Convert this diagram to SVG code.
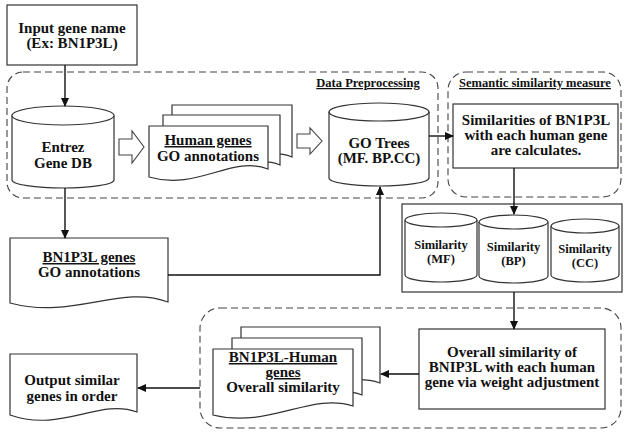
<svg xmlns="http://www.w3.org/2000/svg" width="624" height="432" viewBox="0 0 624 432">
<defs>
<marker id="ah" markerWidth="9" markerHeight="8" refX="8" refY="4" orient="auto" markerUnits="userSpaceOnUse">
<path d="M0,0 L9,4 L0,8 Z" fill="#111"/>
</marker>
<style>
.t{font-family:"Liberation Serif","Times New Roman",serif;font-weight:bold;font-size:15px;fill:#111;text-anchor:middle}
.s{font-size:12.5px}
.u{text-decoration:underline}
.box{fill:#fff;stroke:#333;stroke-width:1.2}
.grp{fill:none;stroke:#444;stroke-width:1.1;stroke-dasharray:7 4}
.ln{fill:none;stroke:#111;stroke-width:1.4}
.blk{fill:#fff;stroke:#444;stroke-width:1.1}
</style>
</defs>
<rect width="624" height="432" fill="#fff"/>

<g id="groups">
<rect id="dataPreprocessing" class="grp" x="7" y="72" width="431" height="126" rx="16"/>
<text class="t s u" x="368" y="87">Data Preprocessing</text>
<rect id="semanticSimilarity" class="grp" x="448" y="72" width="173" height="125" rx="18"/>
<text class="t s u" x="535" y="87">Semantic similarity measure</text>
<rect id="overallGroup" class="grp" x="200" y="308" width="421" height="120" rx="20"/>
</g>

<g id="input">
<rect class="box" x="7" y="5" width="130" height="60"/>
<text class="t" x="72" y="33">Input gene name</text>
<text class="t" x="72" y="48">(Ex: BN1P3L)</text>
</g>

<g id="entrez">
<path class="box" d="M12,115.5 V180 A51,8 0 0 0 114,180 V115.5 A51,9.5 0 0 0 12,115.5 Z"/>
<path class="box" fill="none" d="M12,115.5 A51,9.5 0 0 0 114,115.5"/>
<text class="t" x="63" y="152">Entrez</text>
<text class="t" x="63" y="168">Gene DB</text>
</g>

<g id="arrow1">
<path class="blk" d="M119,139 H132 V131 L144,147 L132,163 V155 H119 Z"/>
</g>

<g id="humanGenes">
<path class="box" d="M172,105 H292 V157 C256,143 220,179 172,165 Z"/>
<path class="box" d="M163,115 H280 V165 C245,151 210,187 163,173 Z"/>
<path class="box" d="M149,126 H268 V169 C232,155 197,191 149,177 Z"/>
<text class="t u" x="208" y="145">Human genes</text>
<text class="t" x="208" y="161">GO annotations</text>
</g>

<g id="arrow2">
<path class="blk" d="M297,134 H310 V128 L322,141 L310,154 V148 H297 Z"/>
</g>

<g id="goTrees">
<path class="box" d="M329,112 V178 A50,8 0 0 0 429,178 V112 A50,9 0 0 0 329,112 Z"/>
<path class="box" fill="none" d="M329,112 A50,9 0 0 0 429,112"/>
<text class="t" x="379" y="148">GO Trees</text>
<text class="t" x="379" y="163">(MF. BP.CC)</text>
</g>

<g id="similarities">
<rect class="box" x="453" y="104" width="165" height="64"/>
<text class="t" x="536" y="125">Similarities of BN1P3L</text>
<text class="t" x="536" y="140">with each human gene</text>
<text class="t" x="536" y="155">are calculates.</text>
</g>

<g id="bn1p3lGenes">
<path class="box" d="M10,238 H168 V302 C121,284 73,320 10,303 Z"/>
<text class="t u" x="89" y="262">BN1P3L genes</text>
<text class="t" x="89" y="277">GO annotations</text>
</g>

<g id="similarityDBs">
<rect class="box" x="402" y="204" width="220" height="88"/>
<g id="simMF">
<path class="box" d="M405,220 V275 A36,7 0 0 0 477,275 V220 A36,7 0 0 0 405,220 Z"/>
<path class="box" fill="none" d="M405,220 A36,7 0 0 0 477,220"/>
<text class="t s" x="441" y="249">Similarity</text>
<text class="t s" x="441" y="263">(MF)</text>
</g>
<g id="simBP">
<path class="box" d="M479,222 V276 A34.5,7 0 0 0 548,276 V222 A34.5,7 0 0 0 479,222 Z"/>
<path class="box" fill="none" d="M479,222 A34.5,7 0 0 0 548,222"/>
<text class="t s" x="513.5" y="251">Similarity</text>
<text class="t s" x="513.5" y="265">(BP)</text>
</g>
<g id="simCC">
<path class="box" d="M551,226 V275 A34,7 0 0 0 619,275 V226 A34,7 0 0 0 551,226 Z"/>
<path class="box" fill="none" d="M551,226 A34,7 0 0 0 619,226"/>
<text class="t s" x="585" y="253">Similarity</text>
<text class="t s" x="585" y="267">(CC)</text>
</g>
</g>

<g id="overall">
<rect class="box" x="419" y="329" width="186" height="80"/>
<text class="t" x="512" y="357">Overall similarity of</text>
<text class="t" x="512" y="372">BNIP3L with each human</text>
<text class="t" x="512" y="387">gene via weight adjustment</text>
</g>

<g id="bn1p3lHuman">
<path class="box" d="M241,327 H380 V383 C338,369 297,405 241,391 Z"/>
<path class="box" d="M232,338 H362 V395 C323,381 284,417 232,403 Z"/>
<path class="box" d="M213,349 H353 V406 C311,392 269,429 213,415 Z"/>
<text class="t u" x="283" y="362">BN1P3L-Human</text>
<text class="t u" x="283" y="377">genes</text>
<text class="t" x="283" y="392">Overall similarity</text>
</g>

<g id="output">
<path class="box" d="M10,354 H137 V412 C99,398 61,433 10,415 Z"/>
<text class="t" x="72" y="385">Output similar</text>
<text class="t" x="72" y="401">genes in order</text>
</g>

<g id="connectors">
<path class="ln" d="M65,65 V106" marker-end="url(#ah)"/>
<path class="ln" d="M65,188 V238" marker-end="url(#ah)"/>
<path class="ln" d="M168,275 H380 V187" marker-end="url(#ah)"/>
<path class="ln" d="M429,136 H453" marker-end="url(#ah)"/>
<path class="ln" d="M514,168 V214" marker-end="url(#ah)"/>
<path class="ln" d="M514,292 V329" marker-end="url(#ah)"/>
<path class="ln" d="M419,374 H381" marker-end="url(#ah)"/>
<path class="ln" d="M200,388 H138" marker-end="url(#ah)"/>
</g>
</svg>
